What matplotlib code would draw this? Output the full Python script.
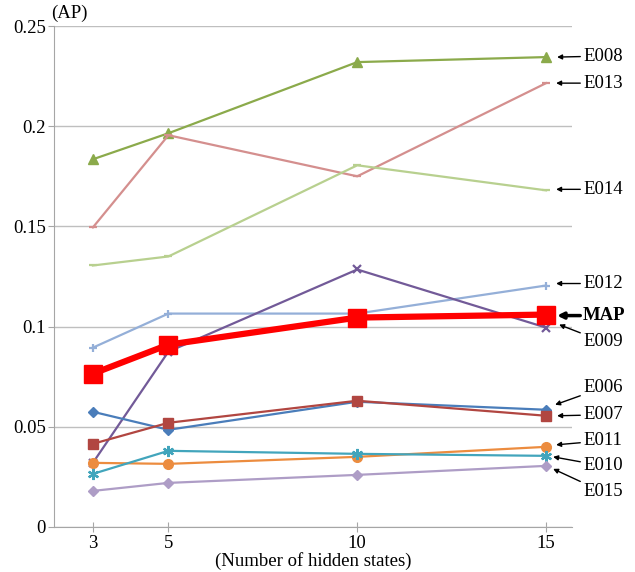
import matplotlib.pyplot as plt

# Dados
states = [3, 5, 10, 15]

e006 = [0.0575, 0.0485, 0.0625, 0.0585]
e007 = [0.0415, 0.052, 0.063, 0.0555]
e008 = [0.1835, 0.1965, 0.232, 0.2345]
e009 = [0.032, 0.0875, 0.1285, 0.0995]
e010 = [0.0265, 0.038, 0.0365, 0.0355]
e011 = [0.032, 0.0315, 0.035, 0.040]
e012 = [0.0895, 0.1065, 0.1065, 0.1205]
e013 = [0.1495, 0.1955, 0.175, 0.2215]
e014 = [0.1305, 0.135, 0.1805, 0.168]
e015 = [0.018, 0.022, 0.026, 0.0305]
map_values = [0.0765, 0.091, 0.1045, 0.106]

y_ticks = [0, 0.05, 0.1, 0.15, 0.2, 0.25]
y_tick_labels = ['0', '0.05', '0.1', '0.15', '0.2', '0.25']

plt.rcParams['font.family'] = ['Liberation Serif', 'DejaVu Serif']
fs = 13.5

fig = plt.figure(figsize=(6.35, 5.72), dpi=100)
ax = fig.add_axes([0.0850, 0.0787, 0.8160, 0.8758])

# (nome, valores, cor, marcador, tamanho, posição do texto em pixels, ponta da seta em pixels)
series = [
    ('E008', e008, '#8BAA4B', '^', 7, (583, 57), (557, 58)),
    ('E013', e013, '#D48F8E', '_', 6, (583, 84), (556, 84)),
    ('E014', e014, '#B8D08F', '_', 6, (583, 190), (556, 190)),
    ('E012', e012, '#94AFD8', '+', 6, (583, 284), (556, 284)),
    ('E009', e009, '#725A98', 'x', 6, (583, 342), (559, 325)),
    ('E006', e006, '#4A7DBA', 'D', 5, (583, 388), (555, 405)),
    ('E007', e007, '#B14641', 's', 7, (583, 415), (557, 416)),
    ('E011', e011, '#EC8C3F', 'o', 7, (583, 441), (556, 445)),
    ('E010', e010, '#42A5BC', (6, 2, 0), 8, (583, 466), (553, 457)),
    ('E015', e015, '#AE9DC6', 'D', 5, (583, 492), (553, 469)),
]

def px_to_data(px, py):
    # converte pixels da imagem (origem no topo) para coordenadas de dados
    return 3 + (px - 92) / 37.83, (527 - py) / 2000


for nome, valores, cor, marcador, ms, txt, ponta in series:
    ax.plot(states, valores, color=cor, marker=marcador, markersize=ms,
            linewidth=1.6, markeredgewidth=1.6 if marcador in ('_', '+', 'x', (6, 2, 0)) else 1,
            clip_on=False, zorder=3)
    ax.annotate(nome, xy=px_to_data(*ponta), xytext=px_to_data(*txt),
                ha='left', va='center', fontsize=fs, annotation_clip=False,
                arrowprops=dict(arrowstyle='-|>', color='black', lw=1,
                                mutation_scale=7, shrinkA=0, shrinkB=0))

# MAP em destaque
ax.plot(states, map_values, color='#FF0000', marker='s', markersize=13,
        linewidth=4.5, clip_on=False, zorder=4)
ax.annotate('MAP', xy=px_to_data(557, 316), xytext=px_to_data(583, 316),
            ha='left', va='center', fontsize=fs, fontweight='bold',
            annotation_clip=False,
            arrowprops=dict(arrowstyle='-|>', color='black', lw=2.5,
                            mutation_scale=9, shrinkA=0, shrinkB=0))

# Eixos
ax.set_xlim(1.97, 15.69)
ax.set_ylim(0, 0.25)
ax.set_xticks(states)
ax.set_xticklabels([str(s) for s in states])
ax.set_yticks(y_ticks)
ax.set_yticklabels(y_tick_labels)
ax.tick_params(axis='y', length=4, color='#A6A6A6', labelsize=fs, pad=2)
ax.tick_params(axis='x', direction='inout', length=7, color='#A6A6A6',
               labelsize=fs, pad=2)

for lado in ['right', 'top']:
    ax.spines[lado].set_visible(False)
ax.spines['bottom'].set_color('#A6A6A6')
ax.spines['left'].set_color('#A6A6A6')
ax.grid(axis='y', color='#BFBFBF', linewidth=1)
ax.set_axisbelow(True)

ax.set_xlabel('(Number of hidden states)', fontsize=fs, labelpad=0)
fig.text(51 / 635, 1 - 13 / 572, '(AP)', fontsize=fs, ha='left', va='center')

plt.savefig('out.png', dpi=100)
